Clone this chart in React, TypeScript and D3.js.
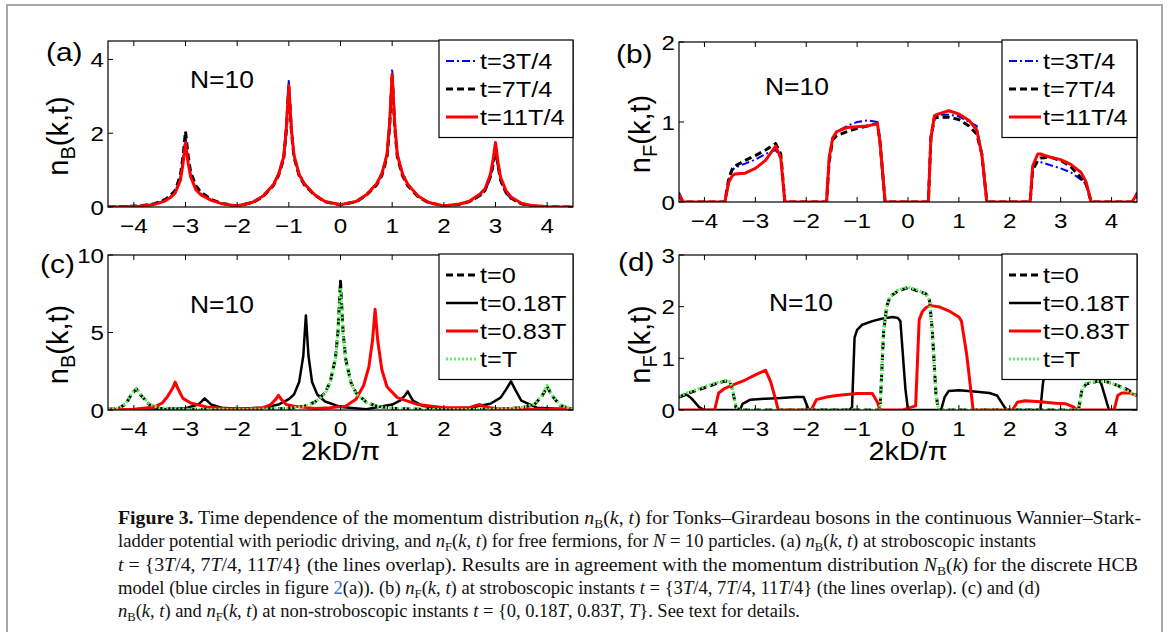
import React from "react";
import * as d3 from "d3";

// ---------- tick values ----------
const kTicks = [-4, -3, -2, -1, 0, 1, 2, 3, 4];
const aYTicks = [0, 2, 4];
const bYTicks = [0, 1, 2];
const cYTicks = [0, 5, 10];
const dYTicks = [0, 1, 2, 3];

// ---------- panel (a): n_B at stroboscopic instants ----------
const aK = [-4.5, -4.2, -3.9, -3.6, -3.4, -3.3, -3.2, -3.1, -3.05, -3.0, -2.95, -2.9, -2.8, -2.7, -2.5, -2.3, -2.0, -1.7, -1.5, -1.3, -1.2, -1.1, -1.05, -1.0, -0.95, -0.9, -0.8, -0.7, -0.5, -0.3, 0, 0.3, 0.5, 0.7, 0.8, 0.9, 0.95, 1.0, 1.05, 1.1, 1.2, 1.3, 1.5, 1.7, 2.0, 2.3, 2.5, 2.7, 2.8, 2.9, 2.95, 3.0, 3.05, 3.1, 3.2, 3.3, 3.5, 3.7, 4.0, 4.3, 4.5];
const aBlue = [0, 0.01, 0.02, 0.08, 0.18, 0.27, 0.42, 0.8, 1.25, 1.9, 1.3, 0.88, 0.5, 0.36, 0.19, 0.09, 0.03, 0.13, 0.3, 0.62, 0.9, 1.4, 2.2, 3.45, 2.2, 1.42, 0.9, 0.64, 0.34, 0.15, 0.06, 0.15, 0.34, 0.64, 0.92, 1.45, 2.35, 3.75, 2.35, 1.45, 0.92, 0.62, 0.3, 0.12, 0.03, 0.07, 0.14, 0.3, 0.44, 0.78, 1.05, 1.5, 1.05, 0.7, 0.38, 0.23, 0.08, 0.03, 0.01, 0, 0];
const aBlack = [0, 0.01, 0.03, 0.09, 0.2, 0.3, 0.45, 0.85, 1.35, 2.05, 1.4, 0.95, 0.58, 0.4, 0.2, 0.1, 0.03, 0.12, 0.28, 0.58, 0.85, 1.3, 2.05, 3.25, 2.05, 1.35, 0.85, 0.6, 0.32, 0.14, 0.06, 0.14, 0.32, 0.6, 0.85, 1.35, 2.15, 3.5, 2.15, 1.35, 0.85, 0.58, 0.28, 0.12, 0.03, 0.07, 0.15, 0.32, 0.46, 0.82, 1.15, 1.6, 1.1, 0.72, 0.4, 0.24, 0.09, 0.03, 0.01, 0, 0];
const aRed = [0, 0.01, 0.02, 0.07, 0.16, 0.25, 0.38, 0.72, 1.15, 1.75, 1.2, 0.82, 0.47, 0.33, 0.18, 0.09, 0.03, 0.13, 0.3, 0.6, 0.88, 1.35, 2.1, 3.3, 2.1, 1.4, 0.88, 0.63, 0.33, 0.15, 0.06, 0.15, 0.33, 0.63, 0.9, 1.42, 2.25, 3.6, 2.25, 1.42, 0.9, 0.62, 0.3, 0.13, 0.03, 0.08, 0.16, 0.35, 0.5, 0.88, 1.25, 1.75, 1.2, 0.8, 0.45, 0.27, 0.1, 0.04, 0.01, 0, 0];

// ---------- panel (b): n_F at stroboscopic instants ----------
const bK = [-4.5, -4.42, -3.6, -3.52, -3.45, -3.4, -3.2, -3.0, -2.8, -2.6, -2.5, -2.42, -1.6, -1.55, -1.48, -1.4, -1.2, -1.0, -0.8, -0.6, -0.55, -0.45, 0.4, 0.45, 0.52, 0.6, 0.8, 1.0, 1.2, 1.35, 1.45, 1.55, 2.4, 2.45, 2.55, 2.6, 2.8, 3.0, 3.2, 3.4, 3.5, 3.6, 4.4, 4.5];
const bBlue = [0.12, 0, 0, 0.28, 0.4, 0.43, 0.48, 0.53, 0.6, 0.65, 0.55, 0, 0, 0.55, 0.8, 0.88, 0.95, 1.0, 1.02, 1.0, 0.75, 0, 0, 0.85, 1.07, 1.09, 1.09, 1.07, 1.0, 0.95, 0.6, 0, 0, 0.42, 0.5, 0.5, 0.46, 0.42, 0.37, 0.28, 0.22, 0, 0, 0.12];
const bBlack = [0.08, 0, 0, 0.3, 0.42, 0.45, 0.52, 0.58, 0.65, 0.73, 0.6, 0, 0, 0.5, 0.78, 0.83, 0.88, 0.92, 0.95, 0.98, 0.75, 0, 0, 0.8, 1.05, 1.06, 1.06, 1.03, 0.95, 0.85, 0.6, 0, 0, 0.4, 0.52, 0.55, 0.56, 0.52, 0.44, 0.3, 0.22, 0, 0, 0.08];
const bRed = [0.1, 0, 0, 0.25, 0.33, 0.35, 0.36, 0.42, 0.52, 0.7, 0.55, 0, 0, 0.55, 0.8, 0.88, 0.93, 0.94, 0.95, 0.98, 0.75, 0, 0, 0.8, 1.08, 1.1, 1.14, 1.1, 1.02, 0.9, 0.6, 0, 0, 0.45, 0.6, 0.6, 0.56, 0.53, 0.47, 0.37, 0.25, 0, 0, 0.1];

// ---------- panel (c): n_B at non-stroboscopic instants ----------
const cK0 = [-4.5, -4.3, -4.15, -4.05, -3.95, -3.85, -3.7, -3.5, -3.0, -2.0, -1.0, -0.7, -0.5, -0.3, -0.2, -0.1, -0.05, 0, 0.05, 0.1, 0.2, 0.3, 0.5, 0.7, 1.0, 2.0, 3.0, 3.5, 3.75, 3.9, 4.0, 4.1, 4.25, 4.5];
const cY0 = [0.05, 0.1, 0.4, 1.0, 1.35, 0.9, 0.35, 0.1, 0.05, 0.02, 0.1, 0.25, 0.5, 1.1, 1.8, 3.3, 5.0, 8.3, 5.0, 3.3, 1.8, 1.1, 0.5, 0.25, 0.1, 0.02, 0.05, 0.15, 0.35, 0.9, 1.5, 0.9, 0.3, 0.05];
const cYT = [0.06, 0.12, 0.45, 1.05, 1.4, 0.95, 0.38, 0.12, 0.05, 0.02, 0.1, 0.24, 0.48, 1.05, 1.75, 3.2, 4.8, 7.9, 4.8, 3.2, 1.75, 1.05, 0.48, 0.24, 0.1, 0.02, 0.05, 0.16, 0.38, 0.95, 1.6, 0.95, 0.32, 0.06];
const cK1 = [-4.5, -3.5, -3.0, -2.75, -2.63, -2.5, -2.3, -2.0, -1.5, -1.2, -1.0, -0.9, -0.8, -0.72, -0.67, -0.62, -0.55, -0.45, -0.3, 0, 0.5, 1.0, 1.15, 1.25, 1.3, 1.4, 1.6, 2.0, 2.5, 2.9, 3.1, 3.2, 3.3, 3.4, 3.5, 3.8, 4.5];
const cY1 = [0.02, 0.05, 0.12, 0.35, 0.75, 0.35, 0.15, 0.08, 0.15, 0.35, 0.7, 1.0, 1.8, 3.5, 6.1, 3.5, 1.8, 1.0, 0.55, 0.2, 0.05, 0.35, 0.6, 0.95, 1.2, 0.6, 0.25, 0.08, 0.15, 0.4, 0.8, 1.3, 1.85, 1.2, 0.6, 0.15, 0.03];
const cK2 = [-4.5, -4.0, -3.6, -3.45, -3.35, -3.25, -3.2, -3.15, -3.05, -2.9, -2.6, -2.2, -1.8, -1.5, -1.35, -1.25, -1.2, -1.15, -1.05, -0.9, -0.5, -0.2, 0.1, 0.3, 0.45, 0.55, 0.62, 0.67, 0.72, 0.8, 0.9, 1.1, 1.5, 2.0, 2.5, 2.62, 2.7, 2.8, 3.0, 3.5, 4.0, 4.5];
const cY2 = [0.02, 0.05, 0.2, 0.45, 0.85, 1.4, 1.8, 1.4, 0.75, 0.45, 0.2, 0.08, 0.08, 0.15, 0.35, 0.7, 0.95, 0.7, 0.35, 0.25, 0.1, 0.15, 0.25, 0.7, 1.6, 2.8, 4.5, 6.5, 4.5, 2.6, 1.5, 0.8, 0.35, 0.15, 0.15, 0.3, 0.35, 0.2, 0.1, 0.05, 0.05, 0.1];

// ---------- panel (d): n_F at non-stroboscopic instants ----------
const dK0 = [-4.5, -4.3, -4.0, -3.8, -3.6, -3.5, -3.45, -3.38, -3.3, -0.55, -0.48, -0.42, -0.35, -0.2, 0, 0.2, 0.35, 0.42, 0.48, 0.55, 0.6, 3.35, 3.42, 3.5, 3.7, 3.9, 4.1, 4.3, 4.5];
const dY0 = [0.25, 0.33, 0.43, 0.5, 0.56, 0.55, 0.4, 0.05, 0, 0, 1.5, 2.0, 2.2, 2.3, 2.37, 2.3, 2.25, 2.15, 1.5, 0.3, 0, 0, 0.4, 0.5, 0.55, 0.55, 0.48, 0.4, 0.28];
const dYT = [0.27, 0.35, 0.45, 0.52, 0.57, 0.55, 0.42, 0.06, 0, 0, 1.55, 1.98, 2.2, 2.32, 2.38, 2.32, 2.25, 2.12, 1.45, 0.28, 0, 0, 0.42, 0.52, 0.56, 0.55, 0.48, 0.38, 0.27];
const dK1 = [-4.5, -4.35, -4.25, -4.1, -4.0, -3.3, -3.25, -3.1, -2.8, -2.5, -2.2, -2.05, -1.95, -1.15, -1.1, -1.05, -1.0, -0.9, -0.7, -0.5, -0.3, -0.2, -0.15, -0.05, 0.0, 0.65, 0.72, 0.8, 1.0, 1.3, 1.6, 1.75, 1.9, 1.95, 2.6, 2.65, 2.72, 2.85, 3.2, 3.5, 3.7, 3.8, 3.95, 4.5];
const dY1 = [0.25, 0.3, 0.22, 0.05, 0, 0, 0.12, 0.2, 0.22, 0.23, 0.25, 0.25, 0, 0, 0.05, 1.4, 1.55, 1.65, 1.72, 1.77, 1.8, 1.78, 1.72, 0.4, 0, 0, 0.25, 0.37, 0.38, 0.36, 0.33, 0.28, 0.05, 0, 0, 0.5, 1.0, 1.15, 1.1, 0.95, 0.7, 0.5, 0, 0];
const dK2 = [-4.5, -3.8, -3.72, -3.6, -3.4, -3.2, -3.0, -2.8, -2.7, -2.6, -2.55, -1.9, -1.8, -1.6, -1.4, -1.2, -1.0, -0.8, -0.7, -0.6, -0.55, -0.1, 0.05, 0.15, 0.22, 0.28, 0.35, 0.45, 0.6, 0.8, 1.0, 1.05, 1.15, 1.28, 2.05, 2.15, 2.3, 2.6, 2.9, 3.1, 3.25, 3.32, 4.05, 4.12, 4.2, 4.35, 4.5];
const dY2 = [0, 0, 0.33, 0.42, 0.5, 0.58, 0.68, 0.77, 0.55, 0.2, 0, 0, 0.2, 0.25, 0.28, 0.3, 0.32, 0.32, 0.32, 0.15, 0, 0, 0.05, 0.08, 1.75, 1.9, 1.98, 2.02, 2.0, 1.92, 1.8, 1.72, 1.1, 0, 0, 0.15, 0.18, 0.16, 0.13, 0.12, 0.06, 0, 0, 0.28, 0.33, 0.33, 0.28];

// ---------- legend labels ----------
const strobLabels = ["t=3T/4", "t=7T/4", "t=11T/4"];
const nonStrobLabels = ["t=0", "t=0.18T", "t=0.83T", "t=T"];

// ---------- caption ----------
type Seg = [string, string];
const captionLines: Seg[][] = [
  [["Figure 3.", "b"], [" Time dependence of the momentum distribution ", ""], ["n", "i"], ["B", "s"], ["(", ""], ["k", "i"], [", ", ""], ["t", "i"], [") for Tonks–Girardeau bosons in the continuous Wannier–Stark-", ""]],
  [["ladder potential with periodic driving, and ", ""], ["n", "i"], ["F", "s"], ["(", ""], ["k", "i"], [", ", ""], ["t", "i"], [") for free fermions, for ", ""], ["N", "i"], [" = 10 particles. (a) ", ""], ["n", "i"], ["B", "s"], ["(", ""], ["k", "i"], [", ", ""], ["t", "i"], [") at stroboscopic instants", ""]],
  [["t", "i"], [" = {3", ""], ["T", "i"], ["/4, 7", ""], ["T", "i"], ["/4, 11", ""], ["T", "i"], ["/4} (the lines overlap). Results are in agreement with the momentum distribution ", ""], ["N", "i"], ["B", "s"], ["(", ""], ["k", "i"], [") for the discrete HCB", ""]],
  [["model (blue circles in figure ", ""], ["2", "l"], ["(a)). (b) ", ""], ["n", "i"], ["F", "s"], ["(", ""], ["k", "i"], [", ", ""], ["t", "i"], [") at stroboscopic instants ", ""], ["t", "i"], [" = {3", ""], ["T", "i"], ["/4, 7", ""], ["T", "i"], ["/4, 11", ""], ["T", "i"], ["/4} (the lines overlap). (c) and (d)", ""]],
  [["n", "i"], ["B", "s"], ["(", ""], ["k", "i"], [", ", ""], ["t", "i"], [") and ", ""], ["n", "i"], ["F", "s"], ["(", ""], ["k", "i"], [", ", ""], ["t", "i"], [") at non-stroboscopic instants ", ""], ["t", "i"], [" = {0, 0.18", ""], ["T", "i"], [", 0.83", ""], ["T", "i"], [", ", ""], ["T", "i"], ["}. See text for details.", ""]],
];
const captionWidths = [1023, 918, 1020, 922, 682];

// ---------- styles ----------
const STYLES: Record<string, { stroke: string; width: number; dash: string }> = {
  blue: { stroke: "#0000ff", width: 2, dash: "8,3,2,3" },
  dashed: { stroke: "#000000", width: 3, dash: "7,4" },
  red: { stroke: "#ff0000", width: 3, dash: "" },
  solid: { stroke: "#000000", width: 2.5, dash: "" },
  green: { stroke: "#5ef05e", width: 3, dash: "2,2" },
};

const FONT = "'Liberation Sans', Arial, sans-serif";
const SX = 1.15;

type Series = { k: number[]; v: number[]; style: string; label: string };

type PanelProps = {
  id: string;
  L: number; R: number; T: number; B: number;
  yMax: number; yTicks: number[];
  series: Series[];
  legend: { x: number; y: number; w: number };
  letter: string; letterPos: [number, number];
  sub: string; yLabelX: number;
  nPos: [number, number];
  xLabel: boolean;
};

function HText({ x, y, size, anchor, children, fill }: any) {
  return (
    <text
      transform={`translate(${x},${y}) scale(${SX},1)`}
      fontSize={size}
      fontFamily={FONT}
      textAnchor={anchor || "start"}
      fill={fill || "#000"}
    >
      {children}
    </text>
  );
}

function Panel(p: PanelProps) {
  const x = d3.scaleLinear().domain([-4.5, 4.5]).range([p.L, p.R]);
  const y = d3.scaleLinear().domain([0, p.yMax]).range([p.B, p.T]);
  const line = d3
    .line<[number, number]>()
    .x((d) => x(d[0]))
    .y((d) => y(d[1]));
  const tl = 5;
  const fmt = (v: number) => (v < 0 ? "\u2212" + Math.abs(v) : String(v));
  const lgH = 28.5 + (p.series.length - 1) * 28 + 13;
  return (
    <g>
      <defs>
        <clipPath id={"clip" + p.id}>
          <rect x={p.L} y={p.T} width={p.R - p.L} height={p.B - p.T} />
        </clipPath>
      </defs>
      <rect x={p.L} y={p.T} width={p.R - p.L} height={p.B - p.T} fill="#fff" />
      <g clipPath={`url(#clip${p.id})`}>
        {p.series.map((s, i) => {
          const st = STYLES[s.style];
          const pts = s.k.map((k, j) => [k, s.v[j]] as [number, number]);
          return (
            <path
              key={i}
              d={line(pts) || ""}
              fill="none"
              stroke={st.stroke}
              strokeWidth={st.width}
              strokeDasharray={st.dash || undefined}
              strokeLinejoin="round"
            />
          );
        })}
      </g>
      {kTicks.map((t) => (
        <g key={"xt" + t}>
          <line x1={x(t)} x2={x(t)} y1={p.B} y2={p.B - tl} stroke="#000" strokeWidth={1} />
          <line x1={x(t)} x2={x(t)} y1={p.T} y2={p.T + tl} stroke="#000" strokeWidth={1} />
          <HText x={x(t)} y={p.B + 26} size={21} anchor="middle">{fmt(t)}</HText>
        </g>
      ))}
      {p.yTicks.map((t) => (
        <g key={"yt" + t}>
          <line x1={p.L} x2={p.L + tl} y1={y(t)} y2={y(t)} stroke="#000" strokeWidth={1} />
          <line x1={p.R} x2={p.R - tl} y1={y(t)} y2={y(t)} stroke="#000" strokeWidth={1} />
          <HText x={p.L - 4} y={y(t) + 7.5} size={21} anchor="end">{fmt(t)}</HText>
        </g>
      ))}
      <rect x={p.L} y={p.T} width={p.R - p.L} height={p.B - p.T} fill="none" stroke="#000" strokeWidth={1.2} />
      <rect x={p.legend.x} y={p.legend.y} width={p.legend.w} height={lgH} fill="#fff" stroke="#000" strokeWidth={1.2} />
      {p.series.map((s, i) => {
        const st = STYLES[s.style];
        const by = p.legend.y + 28.5 + i * 28;
        return (
          <g key={"lg" + i}>
            <line
              x1={p.legend.x + 7}
              x2={p.legend.x + 39}
              y1={by - 7.5}
              y2={by - 7.5}
              stroke={st.stroke}
              strokeWidth={st.width}
              strokeDasharray={st.dash || undefined}
            />
            <HText x={p.legend.x + 41} y={by} size={22}>{s.label}</HText>
          </g>
        );
      })}
      <HText x={p.letterPos[0]} y={p.letterPos[1]} size={26}>{p.letter}</HText>
      <HText x={p.nPos[0]} y={p.nPos[1]} size={23}>N=10</HText>
      <text
        transform={`translate(${p.yLabelX},${(p.T + p.B) / 2 + 12}) rotate(-90)`}
        fontSize={29}
        fontFamily={FONT}
        textAnchor="middle"
      >
        n<tspan fontSize={20} dy={7}>{p.sub}</tspan>
        <tspan dy={-7}>(k,t)</tspan>
      </text>
      {p.xLabel && (
        <HText x={(p.L + p.R) / 2} y={460} size={25} anchor="middle">2kD/π</HText>
      )}
    </g>
  );
}

function Caption() {
  return (
    <g fontFamily="'Liberation Serif', 'Times New Roman', serif" fontSize={19} fill="#111">
      {captionLines.map((segs, li) => {
        let sub = false;
        const spans = segs.map(([t, s], i) => {
          const isSub = s === "s";
          let dy: number | undefined;
          if (isSub && !sub) dy = 4;
          if (!isSub && sub) dy = -4;
          sub = isSub;
          return (
            <tspan
              key={i}
              dy={dy}
              fontStyle={s === "i" ? "italic" : undefined}
              fontWeight={s === "b" ? "bold" : undefined}
              fontSize={isSub ? 13 : undefined}
              fill={s === "l" ? "#2f6fd0" : undefined}
            >
              {t}
            </tspan>
          );
        });
        return (
          <text
            key={li}
            x={118}
            y={524 + li * 23.3}
            textLength={captionWidths[li]}
            lengthAdjust="spacingAndGlyphs"
            style={{ whiteSpace: "pre" }}
          >
            {spans}
          </text>
        );
      })}
    </g>
  );
}

export default function App() {
  const panels: PanelProps[] = [
    {
      id: "a", L: 108, R: 573, T: 41, B: 207, yMax: 4.5, yTicks: aYTicks,
      series: [
        { k: aK, v: aBlue, style: "blue", label: strobLabels[0] },
        { k: aK, v: aBlack, style: "dashed", label: strobLabels[1] },
        { k: aK, v: aRed, style: "red", label: strobLabels[2] },
      ],
      legend: { x: 439, y: 40, w: 134 }, letter: "(a)", letterPos: [46, 61],
      sub: "B", yLabelX: 68, nPos: [190, 88], xLabel: false,
    },
    {
      id: "b", L: 679, R: 1137, T: 42, B: 202, yMax: 2, yTicks: bYTicks,
      series: [
        { k: bK, v: bBlue, style: "blue", label: strobLabels[0] },
        { k: bK, v: bBlack, style: "dashed", label: strobLabels[1] },
        { k: bK, v: bRed, style: "red", label: strobLabels[2] },
      ],
      legend: { x: 1002, y: 40, w: 135 }, letter: "(b)", letterPos: [616, 63],
      sub: "F", yLabelX: 650, nPos: [765, 95], xLabel: false,
    },
    {
      id: "c", L: 108, R: 573, T: 255, B: 410, yMax: 10, yTicks: cYTicks,
      series: [
        { k: cK0, v: cY0, style: "dashed", label: nonStrobLabels[0] },
        { k: cK1, v: cY1, style: "solid", label: nonStrobLabels[1] },
        { k: cK2, v: cY2, style: "red", label: nonStrobLabels[2] },
        { k: cK0, v: cYT, style: "green", label: nonStrobLabels[3] },
      ],
      legend: { x: 439, y: 254, w: 134 }, letter: "(c)", letterPos: [40, 273],
      sub: "B", yLabelX: 68, nPos: [190, 313], xLabel: true,
    },
    {
      id: "d", L: 679, R: 1137, T: 255, B: 410, yMax: 3, yTicks: dYTicks,
      series: [
        { k: dK0, v: dY0, style: "dashed", label: nonStrobLabels[0] },
        { k: dK1, v: dY1, style: "solid", label: nonStrobLabels[1] },
        { k: dK2, v: dY2, style: "red", label: nonStrobLabels[2] },
        { k: dK0, v: dYT, style: "green", label: nonStrobLabels[3] },
      ],
      legend: { x: 1002, y: 254, w: 135 }, letter: "(d)", letterPos: [618, 271],
      sub: "F", yLabelX: 650, nPos: [769, 311], xLabel: true,
    },
  ];
  return (
    <svg
      width={1168}
      height={632}
      style={{ position: "absolute", left: 0, top: 0, background: "#fff" }}
    >
      <rect x={0} y={0} width={1168} height={632} fill="#fff" />
      <rect x={7} y={5} width={1155} height={640} fill="none" stroke="#a8a8a8" strokeWidth={2} />
      {panels.map((p) => (
        <Panel key={p.id} {...p} />
      ))}
      <Caption />
    </svg>
  );
}
